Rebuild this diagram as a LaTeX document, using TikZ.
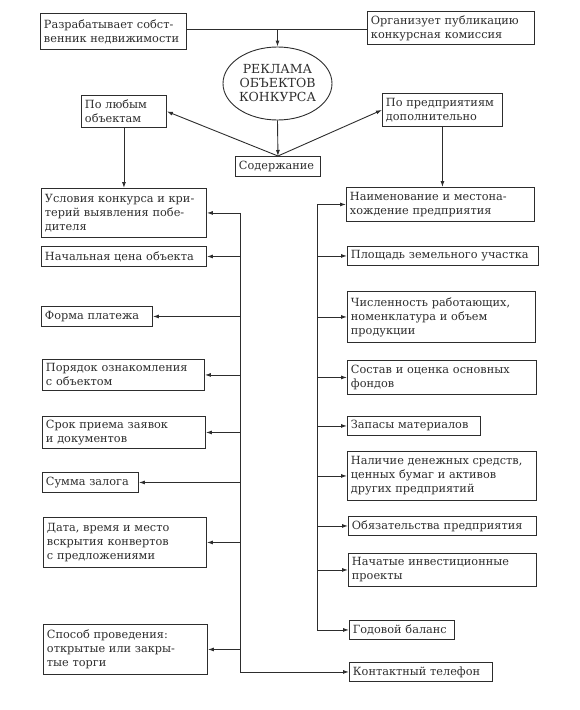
\documentclass[tikz,border=0pt]{standalone}
\usepackage{fontspec}
\setmainfont{DejaVu Serif}
\usetikzlibrary{shapes,arrows.meta}
\definecolor{ink}{RGB}{45,45,45}
\tikzset{
  box/.style={shape=rectangle,draw=ink,text=ink,line width=0.9pt,align=left,anchor=north west,inner xsep=3.5pt,inner ysep=1pt,font=\fontsize{11.3}{14}\selectfont},
  oval/.style={shape=ellipse,draw=ink,text=ink,line width=0.9pt,align=center,inner sep=0pt,minimum width=109pt,minimum height=73pt,font=\fontsize{12.5}{14}\selectfont},
  arr/.style={-{Latex[length=6pt,width=4pt]},draw=ink,line width=0.9pt},
  ln/.style={-,draw=ink,line width=0.9pt}
}
\begin{document}
\begin{tikzpicture}[x=1pt,y=-1pt]
\useasboundingbox (0,0) rectangle (580,710);
\node[box,text width=139pt,minimum height=36pt] (0) at (40,13) {Разрабатывает собст-\\венник недвижимости};
\node[box,text width=160pt,minimum height=33pt] (1) at (367,11) {Организует публикацию\\конкурсная комиссия};
\node[oval] (2) at (277.5,83.5) {РЕКЛАМА\\ОБЪЕКТОВ\\КОНКУРСА};
\node[box,text width=78pt,minimum height=32pt] (3) at (81,95) {По любым\\объектам};
\node[box,text width=113pt,minimum height=33pt] (4) at (382,93) {По предприятиям\\дополнительно};
\node[box,text width=78pt,minimum height=20pt] (5) at (235,156) {Содержание};
\node[box,text width=158pt,minimum height=49pt] (6) at (41,188) {Условия конкурса и кри-\\терий выявления побе-\\дителя};
\node[box,text width=158pt,minimum height=20pt] (7) at (41,246) {Начальная цена объекта};
\node[box,text width=104pt,minimum height=20pt] (8) at (41,306) {Форма платежа};
\node[box,text width=155pt,minimum height=31pt] (9) at (42,359) {Порядок ознакомления\\с объектом};
\node[box,text width=156pt,minimum height=32pt] (10) at (42,416) {Срок приема заявок\\и документов};
\node[box,text width=89pt,minimum height=20pt] (11) at (42,472) {Сумма залога};
\node[box,text width=156pt,minimum height=50pt] (12) at (43,517) {Дата, время и место\\вскрытия конвертов\\с предложениями};
\node[box,text width=157pt,minimum height=50pt] (13) at (43,624) {Способ проведения:\\открытые или закры-\\тые торги};
\node[box,text width=181pt,minimum height=34pt] (14) at (346,187) {Наименование и местона-\\хождение предприятия};
\node[box,text width=184pt,minimum height=19pt] (15) at (347,246) {Площадь земельного участка};
\node[box,text width=181pt,minimum height=51pt] (16) at (347,291) {Численность работающих,\\номенклатура и объем\\продукции};
\node[box,text width=182pt,minimum height=34pt] (17) at (347,360) {Состав и оценка основных\\фондов};
\node[box,text width=126pt,minimum height=19pt] (18) at (347,416) {Запасы материалов};
\node[box,text width=182pt,minimum height=49pt] (19) at (347,451) {Наличие денежных средств,\\ценных бумаг и активов\\других предприятий};
\node[box,text width=181pt,minimum height=19pt] (20) at (348,516) {Обязательства предприятия};
\node[box,text width=181pt,minimum height=33pt] (21) at (348,553) {Начатые инвестиционные\\проекты};
\node[box,text width=98pt,minimum height=19pt] (22) at (349,620) {Годовой баланс};
\node[box,text width=136pt,minimum height=19pt] (23) at (349,662) {Контактный телефон};
\coordinate (top) at (277.5,29);
\coordinate (lt) at (240,0);
\coordinate (rt) at (317,0);

\path (0.east |- top) edge [ln] (1.west |- top);
\path (top) edge [arr] (2.north);
\path (2.south) edge [arr] (5.north);
\path (5.north) edge [arr] (3.east);
\path (5.north) edge [arr] (4.west);
\path (3.south) edge [arr] (3.south |- 6.north);
\path (4.south) edge [arr] (4.south |- 14.north);
\path (lt |- 6.east) edge [ln] (lt |- 23.west);
\path (lt |- 23.west) edge [arr] (23.west);
\foreach \i in {6,...,13} \path (lt |- \i.east) edge [arr] (\i.east);
\path (rt |- 14.west) edge [ln] (rt |- 22.west);
\foreach \i in {14,...,22} \path (rt |- \i.west) edge [arr] (\i.west);
\end{tikzpicture}
\end{document}
